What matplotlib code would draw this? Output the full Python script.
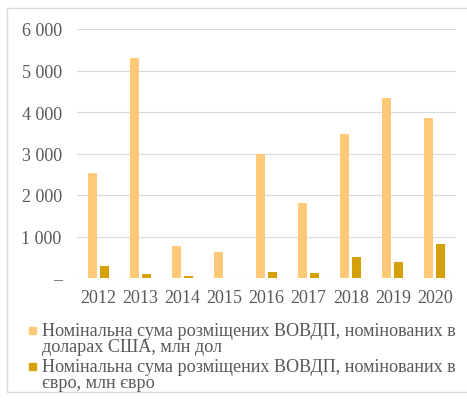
import matplotlib.pyplot as plt
from matplotlib.patches import Rectangle
import numpy as np

years = ['2012', '2013', '2014', '2015', '2016', '2017', '2018', '2019', '2020']
usd = [2520, 5300, 780, 630, 3000, 1800, 3470, 4330, 3850]
eur = [300, 100, 40, 0, 140, 120, 510, 380, 830]
labels = ['Номінальна сума розміщених ВОВДП, номінованих в\nдоларах США, млн дол',
          'Номінальна сума розміщених ВОВДП, номінованих в\nєвро, млн євро']

c_usd = '#FFC978'
c_eur = '#D4A208'
grey = '#595959'
serif = 'Liberation Serif'

fig = plt.figure(figsize=(4.67, 4.02), dpi=100, facecolor='white')
ax = fig.add_axes([77/467, 1-279/402, 379/467, 249/402])

x = np.arange(len(years))
w = 0.215
ax.bar(x-0.142, usd, w, color=c_usd, zorder=3)
ax.bar(x+0.142, eur, w, color=c_eur, zorder=3)

ax.set_xlim(-0.5, len(years)-0.5)
ax.set_ylim(0, 6000)
yt = list(range(0, 6001, 1000))
ax.set_yticks(yt)
ax.set_yticklabels(['–' if v == 0 else f'{v:,}'.replace(',', ' ') for v in yt],
                   family=serif)
ax.set_xticks(x)
ax.set_xticklabels(years, family=serif)
ax.grid(axis='y', color='#D9D9D9', lw=0.8, zorder=0)
for s in ax.spines.values():
    s.set_visible(False)
ax.tick_params(axis='both', length=0, labelsize=13, colors=grey)
ax.tick_params(axis='y', pad=11)
ax.tick_params(axis='x', pad=8)

# legend drawn by hand so the square sits on the first line
# (va='baseline' puts the last line of the label on the given y)
for i, (lab, col) in enumerate([(labels[0], c_usd), (labels[1], c_eur)]):
    base = 352 + i*36
    mid = 331 + i*36
    fig.patches.append(Rectangle((29/467, 1-(mid+3.5)/402), 7/467, 7/402,
                                 transform=fig.transFigure, color=col))
    fig.text(42/467, 1-base/402, lab, fontsize=13.1, color=grey, family=serif,
             va='baseline', ha='left', linespacing=0.94)

# light frame around the chart
fig.patches.append(Rectangle((7/467, 1-393/402), 470/467, 384/402,
                             transform=fig.transFigure, fill=False,
                             edgecolor='#D9D9D9', lw=1))

plt.savefig('out.png', dpi=100)
